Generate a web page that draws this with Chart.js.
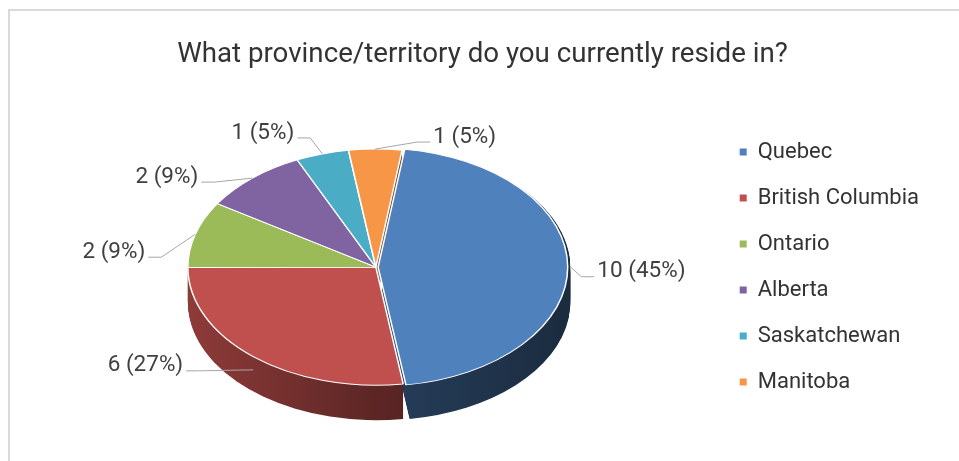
<!DOCTYPE html>
<html>
<head>
<meta charset="utf-8">
<script src="https://cdn.jsdelivr.net/npm/chart.js@4.4.0/dist/chart.umd.min.js"></script>
<style>
  html, body { margin: 0; padding: 0; background: #fff; }
  #wrap { width: 959px; height: 461px; position: relative; }
</style>
</head>
<body>
<div id="wrap"><canvas id="provinceChart"></canvas></div>
<script>
const provinces = ['Quebec', 'British Columbia', 'Ontario', 'Alberta', 'Saskatchewan', 'Manitoba'];
const respondents = [10, 6, 2, 2, 1, 1];
const sliceColors = ['#4f81bd', '#c0504d', '#9bbb59', '#8064a2', '#4bacc6', '#f79646'];
const explode = [9, 0, 0, 0, 0, 0];

// where each data label ends up, relative to the edge of its slice
const labelShift = [[24, 10], [-67, 1], [-47, 23], [-51, 4], [-25, -16], [55, -7]];

const TILT = 0.628;  // vertical squash of the pie top
const DEPTH = 35;    // thickness of the pie in px
const FONT = 'Roboto, "Noto Sans", sans-serif';

// darken a hex colour by factor f
function shade(hex, f) {
  const n = parseInt(hex.slice(1), 16);
  const r = Math.round(((n >> 16) & 255) * f);
  const g = Math.round(((n >> 8) & 255) * f);
  const b = Math.round((n & 255) * f);
  return `rgb(${r},${g},${b})`;
}

// arc geometry incl. the offset Chart.js applies to exploded slices
function sliceShape(arc) {
  const p = arc.getProps(['x', 'y', 'startAngle', 'endAngle', 'outerRadius'], true);
  const mid = (p.startAngle + p.endAngle) / 2;
  const circ = p.endAngle - p.startAngle;
  const off = (arc.options.offset || 0) * (1 - Math.sin(Math.min(Math.PI, circ)));
  return {
    cx: p.x + Math.cos(mid) * off,
    cy: p.y + Math.sin(mid) * off,
    r: p.outerRadius,
    start: p.startAngle,
    end: p.endAngle,
    mid: mid
  };
}

const pie3d = {
  id: 'pie3d',
  beforeDraw(chart) {
    // thin frame on the top and left edge
    const ctx = chart.ctx;
    ctx.save();
    ctx.strokeStyle = '#d9d9d9';
    ctx.lineWidth = 2;
    ctx.beginPath();
    ctx.moveTo(9, chart.height);
    ctx.lineTo(9, 10);
    ctx.lineTo(chart.width, 10);
    ctx.stroke();
    ctx.restore();
  },
  beforeDatasetsDraw(chart) {
    const ctx = chart.ctx;
    const arcs = chart.getDatasetMeta(0).data;
    const ox = arcs[0].x, oy = arcs[0].y, r = arcs[0].outerRadius;
    ctx.save();
    ctx.translate(ox, oy);
    ctx.scale(1, TILT);
    ctx.translate(-ox, -oy);

    const sides = sliceColors.map(c => {
      const g = ctx.createLinearGradient(ox - r, 0, ox + r, 0);
      g.addColorStop(0, shade(c, 0.74));
      g.addColorStop(0.5, shade(c, 0.48));
      g.addColorStop(1, shade(c, 0.34));
      return g;
    });

    // stack the sides from the bottom up
    for (let d = DEPTH; d >= 1; d--) {
      const dy = d / TILT;
      arcs.forEach((arc, i) => {
        const s = sliceShape(arc);
        ctx.beginPath();
        ctx.moveTo(s.cx, s.cy + dy);
        ctx.arc(s.cx, s.cy + dy, s.r, s.start, s.end);
        ctx.closePath();
        ctx.fillStyle = sides[i];
        ctx.fill();
      });
    }
  },
  afterDatasetsDraw(chart) {
    chart.ctx.restore();
  },
  afterDraw(chart) {
    const ctx = chart.ctx;
    const arcs = chart.getDatasetMeta(0).data;
    const total = respondents.reduce((a, b) => a + b, 0);
    ctx.save();
    ctx.font = '22.5px ' + FONT;
    ctx.fillStyle = '#404040';
    ctx.strokeStyle = '#a6a6a6';
    ctx.lineWidth = 1;
    ctx.textBaseline = 'middle';
    arcs.forEach((arc, i) => {
      const s = sliceShape(arc);
      const ax = s.cx + Math.cos(s.mid) * s.r;
      const ay = arc.y + (s.cy + Math.sin(s.mid) * s.r - arc.y) * TILT +
        Math.max(0, Math.sin(s.mid)) * DEPTH * 0.5;
      const dir = labelShift[i][0] > 0 ? 1 : -1;
      const ex = ax + labelShift[i][0];
      const ey = ay + labelShift[i][1];
      ctx.beginPath();
      ctx.moveTo(ax, ay);
      ctx.lineTo(ex - dir * 13, ey);
      ctx.lineTo(ex, ey);
      ctx.stroke();
      const pct = Math.round(respondents[i] / total * 100);
      ctx.textAlign = dir > 0 ? 'left' : 'right';
      ctx.fillText(`${respondents[i]} (${pct}%)`, ex + dir * 3, ey - 5);
    });
    ctx.restore();
  }
};

new Chart(document.getElementById('provinceChart'), {
  type: 'pie',
  data: {
    labels: provinces,
    datasets: [{
      data: respondents,
      backgroundColor: sliceColors,
      borderColor: '#ffffff',
      borderWidth: 1.5,
      offset: explode,
      radius: 188
    }]
  },
  options: {
    responsive: true,
    maintainAspectRatio: false,
    animation: false,
    events: [],
    rotation: 8,
    layout: { padding: { top: 10, left: 36, right: 30, bottom: 4 } },
    plugins: {
      title: {
        display: true,
        text: 'What province/territory do you currently reside in?',
        color: '#333333',
        font: { family: FONT, size: 27.7, weight: 'normal' },
        padding: { top: 28, bottom: 6 }
      },
      legend: {
        position: 'right',
        fullSize: false,
        labels: {
          boxWidth: 7,
          boxHeight: 7,
          padding: 24,
          color: '#333333',
          font: { family: FONT, size: 22 },
          generateLabels(chart) {
            return Chart.overrides.pie.plugins.legend.labels.generateLabels(chart)
              .map(item => Object.assign(item, { lineWidth: 0, strokeStyle: 'rgba(0,0,0,0)' }));
          }
        }
      },
      tooltip: { enabled: false }
    }
  },
  plugins: [pie3d]
});
</script>
</body>
</html>
